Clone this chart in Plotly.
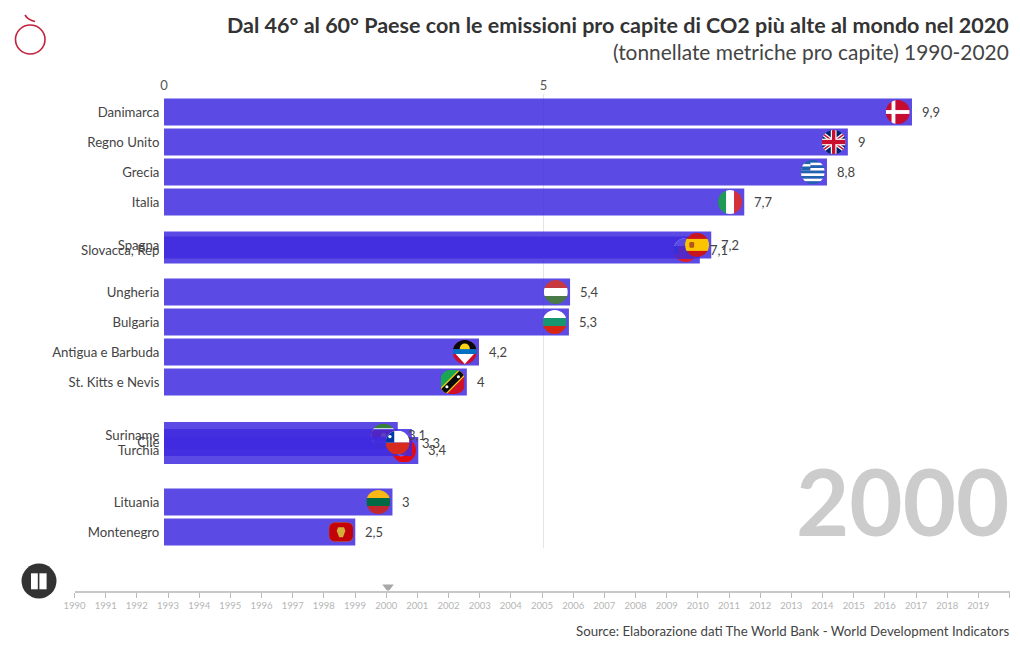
import base64
import plotly.graph_objects as go

# ---- data ----
countries = ["Danimarca", "Regno Unito", "Grecia", "Italia", "Spagna", "Slovacca, Rep",
             "Ungheria", "Bulgaria", "Antigua e Barbuda", "St. Kitts e Nevis",
             "Suriname", "Cile", "Turchia", "Lituania", "Montenegro"]
values = [9.855, 9.01, 8.735, 7.645, 7.21, 7.06, 5.35, 5.335, 4.15, 3.99, 3.08, 3.265, 3.35, 3.01, 2.52]
labels = ["9,9", "9", "8,8", "7,7", "7,2", "7,1", "5,4", "5,3", "4,2", "4", "3,1", "3,3", "3,4", "3", "2,5"]
ranks = [1, 2, 3, 4, 5.43, 5.6, 7, 8, 9, 10, 11.78, 12.02, 12.28, 14, 15]
years = list(range(1990, 2020))
current_year = 2000.06

TITLE = "Dal 46° al 60° Paese con le emissioni pro capite di CO2 più alte al mondo nel 2020"
SUBTITLE = "(tonnellate metriche pro capite) 1990-2020"
SOURCE = "Source: Elaborazione dati The World Bank - World Development Indicators"

FONT = "Lato"
W, H = 1020, 650
BAR = "rgba(64,42,223,0.85)"
PX_PER_UNIT = 75.9
PX_PER_RANK = 30.0


def px(x):
    return x / W


def py(y):
    return 1 - y / H


def tint(x, y, w, h):
    return f'<rect x="{x}" y="{y}" width="{w}" height="{h}" fill="{BAR}"/>'


def stripes(*cols):
    n = len(cols)
    return "".join(f'<rect x="0" y="{i*100/n}" width="100" height="{100/n+0.5}" fill="{c}"/>' for i, c in enumerate(cols))


def vstripes(*cols):
    n = len(cols)
    return "".join(f'<rect y="0" x="{i*100/n}" height="100" width="{100/n+0.5}" fill="{c}"/>' for i, c in enumerate(cols))


greek = stripes(*["#1f62ad", "#fff"] * 4 + ["#1f62ad"]) + \
    '<rect width="40" height="44" fill="#1f62ad"/><rect y="17" width="40" height="10" fill="#fff"/>'
union = ('<rect width="100" height="100" fill="#012169"/>'
         '<path d="M0 12L100 88M100 12L0 88" stroke="#fff" stroke-width="16"/>'
         '<path d="M0 12L100 88M100 12L0 88" stroke="#c8102e" stroke-width="6"/>'
         '<rect x="38" width="24" height="100" fill="#fff"/><rect y="36" width="100" height="28" fill="#fff"/>'
         '<rect x="43" width="14" height="100" fill="#c8102e"/><rect y="41" width="100" height="18" fill="#c8102e"/>')
flags = {
    "Danimarca": '<rect width="100" height="100" fill="#c60c30"/><rect x="24" width="16" height="100" fill="#fff"/><rect y="42" width="100" height="16" fill="#fff"/>',
    "Regno Unito": union,
    "Grecia": greek,
    "Italia": vstripes("#1f9a56", "#ffffff", "#d4303a"),
    "Spagna": stripes("#c8141e", "#fcc400", "#fcc400", "#c8141e") +
              '<rect x="18" y="38" width="20" height="24" rx="5" fill="#b5531f"/>',
    "Slovacca, Rep": stripes("#f4f4f4", "#1a4fa0", "#d8202c") + '<circle cx="35" cy="50" r="17" fill="#d8202c"/>' + tint(0, 0, 100, 87),
    "Ungheria": stripes("#c8383f", "#ffffff", "#4a7a45"),
    "Bulgaria": stripes("#ffffff", "#16966f", "#d62612"),
    "Antigua e Barbuda": '<rect width="100" height="100" fill="#c8102e"/><rect width="100" height="38" fill="#0a0a0a"/>'
                         '<circle cx="50" cy="36" r="21" fill="#fcd116"/>'
                         '<rect y="38" width="100" height="20" fill="#0072c6"/><path d="M12 58H88L50 100Z" fill="#fff"/>',
    "St. Kitts e Nevis": '<path d="M0 0H100L0 100Z" fill="#1aa652"/><path d="M100 0V100H0Z" fill="#ce1126"/>'
                         '<path d="M0 100L100 0" stroke="#fcd116" stroke-width="36"/><path d="M0 100L100 0" stroke="#0a0a0a" stroke-width="26"/>'
                         '<circle cx="26" cy="70" r="6.5" fill="#fff"/><circle cx="74" cy="28" r="6.5" fill="#fff"/>',
    "Suriname": '<rect width="100" height="100" fill="#377e3f"/><rect y="20" width="100" height="60" fill="#fff"/><rect y="28" width="100" height="44" fill="#b40a2d"/>'
                '<circle cx="50" cy="50" r="11" fill="#ecc81d"/>' + tint(0, 23, 100, 77) + tint(0, 56, 100, 44),
    "Cile": '<rect width="100" height="50" fill="#fff"/><rect y="50" width="100" height="50" fill="#d72b1f"/><rect width="36" height="50" fill="#0039a6"/>'
            '<circle cx="18" cy="25" r="7" fill="#fff"/>',
    "Turchia": '<rect width="100" height="100" fill="#e30a17"/><circle cx="38" cy="50" r="24" fill="#fff"/><circle cx="44" cy="50" r="19" fill="#e30a17"/>' + tint(0, 0, 83, 73),
    "Lituania": stripes("#fdb913", "#006a44", "#c1272d"),
    "Montenegro": '<rect width="100" height="100" fill="#d4af37"/><rect y="6" width="100" height="88" fill="#c40308"/>'
                  '<path d="M38 30H62L68 45L58 72H42L32 45Z" fill="#d3ae3b"/>',
}


def flag_uri(name):
    clip = '<rect x="0" y="10" width="100" height="80" rx="24"/>' if name == "Montenegro" else (
        '<rect width="100" height="100" rx="38"/>' if name == "St. Kitts e Nevis" else '<circle cx="50" cy="50" r="50"/>')
    svg = (f'<svg xmlns="http://www.w3.org/2000/svg" width="96" height="96" viewBox="0 0 100 100">'
           f'<defs><clipPath id="c">{clip}</clipPath></defs><g clip-path="url(#c)">{flags[name]}</g></svg>')
    return "data:image/svg+xml;base64," + base64.b64encode(svg.encode()).decode()


fig = go.Figure()
fig.add_trace(go.Bar(x=values, y=ranks, orientation="h", width=0.9, marker=dict(color=BAR, line=dict(width=0)),
                     customdata=countries, hovertemplate="%{customdata}: %{x}<extra></extra>", xaxis="x", yaxis="y"))
fig.add_trace(go.Scatter(x=[current_year], y=[0.28], mode="markers", xaxis="x2", yaxis="y2", hoverinfo="skip",
                         marker=dict(symbol="triangle-down", size=10, color="#a8a8a8", line=dict(width=0))))

images = []
draw_order = ["Danimarca", "Regno Unito", "Grecia", "Italia", "Slovacca, Rep", "Spagna", "Ungheria", "Bulgaria",
              "Antigua e Barbuda", "St. Kitts e Nevis", "Suriname", "Turchia", "Cile", "Lituania", "Montenegro"]
for name in draw_order:
    i = countries.index(name)
    images.append(dict(source=flag_uri(name), xref="x", yref="y", x=values[i] - 14.2 / PX_PER_UNIT, y=ranks[i],
                       xanchor="center", yanchor="middle", sizex=24 / PX_PER_UNIT, sizey=24 / PX_PER_RANK,
                       sizing="stretch", layer="above"))

annotations = [dict(xref="x", yref="y", x=v, y=r, text=t, xanchor="left", yanchor="middle", xshift=8, showarrow=False,
                    font=dict(size=13, color="#444", family=FONT)) for v, r, t in zip(values, ranks, labels)]
annotations += [
    dict(xref="paper", yref="paper", x=px(1011), y=py(25), text=f"<b>{TITLE}</b>", xanchor="right", yanchor="middle",
         showarrow=False, font=dict(size=21.5, color="#333", family=FONT)),
    dict(xref="paper", yref="paper", x=px(1011), y=py(51), text=SUBTITLE, xanchor="right", yanchor="middle",
         showarrow=False, font=dict(size=20.9, color="#444", family=FONT)),
    dict(xref="paper", yref="paper", x=px(1011), y=py(631), text=SOURCE, xanchor="right", yanchor="middle",
         showarrow=False, font=dict(size=13.25, color="#444", family=FONT)),
    dict(xref="paper", yref="paper", x=px(1011), y=py(500), text="<b>2000</b>", xanchor="right", yanchor="middle",
         showarrow=False, font=dict(size=92, color="#cccccc", family=FONT)),
]

shapes = [
    dict(type="circle", xref="paper", yref="paper", x0=px(21.5), x1=px(56.5), y0=py(563.5), y1=py(598.5),
         fillcolor="#333", line=dict(width=0)),
    dict(type="rect", xref="paper", yref="paper", x0=px(31), x1=px(37.8), y0=py(573.3), y1=py(589.3), fillcolor="#fff", line=dict(width=0)),
    dict(type="rect", xref="paper", yref="paper", x0=px(39.4), x1=px(46.6), y0=py(573.3), y1=py(589.3), fillcolor="#fff", line=dict(width=0)),
    dict(type="circle", xref="paper", yref="paper", x0=px(15.5), x1=px(45), y0=py(25), y1=py(54),
         fillcolor="rgba(0,0,0,0)", line=dict(width=1.6, color="#c4213d")),
    dict(type="path", xref="paper", yref="paper",
         path=f"M{px(25)} {py(15)} Q{px(28)} {py(20)} {px(35)} {py(21.5)}",
         line=dict(width=1.6, color="#c4213d")),
]

fig.update_layout(
    width=W, height=H, margin=dict(l=0, r=0, t=0, b=0, autoexpand=False),
    paper_bgcolor="#fff", plot_bgcolor="#fff", showlegend=False, barmode="overlay",
    font=dict(family=FONT, color="#444"),
    images=images, annotations=annotations, shapes=shapes,
    xaxis=dict(domain=[px(164), px(1009.5)], range=[0, (1009.5 - 164) / PX_PER_UNIT], side="top", anchor="y",
               tickvals=[0, 5], ticktext=["0", "5"], showgrid=True, gridcolor="#e4e4e4", gridwidth=1,
               zeroline=False, showline=False, ticks="", tickfont=dict(size=13, color="#555", family=FONT)),
    yaxis=dict(domain=[py(548), py(94)], range=[1 + (548 - 112) / PX_PER_RANK, 1 - (112 - 94) / PX_PER_RANK],
               anchor="x", tickvals=ranks, ticktext=countries, showgrid=False, zeroline=False, showline=False,
               ticks="outside", ticklen=1, tickcolor="rgba(0,0,0,0)", tickfont=dict(size=13.2, color="#444", family=FONT)),
    xaxis2=dict(domain=[px(74.5), px(1009.5)], range=[1990, 2020], anchor="y2", tickvals=years + [2020],
                ticktext=[str(y) for y in years] + [""], showgrid=False, zeroline=False, showline=True,
                linecolor="#c8c8c8", linewidth=2, ticks="outside", ticklen=5, tickcolor="#bbb", tickwidth=1,
                tickangle=0, tickfont=dict(size=9.5, color="#b5b5b5", family=FONT)),
    yaxis2=dict(domain=[py(590.5), py(578)], range=[0, 1], anchor="x2", visible=False, fixedrange=True),
)
fig.write_html("out.html", config=dict(displayModeBar=False),
               post_script="document.body.style.margin='0';document.documentElement.style.overflow='hidden';")
